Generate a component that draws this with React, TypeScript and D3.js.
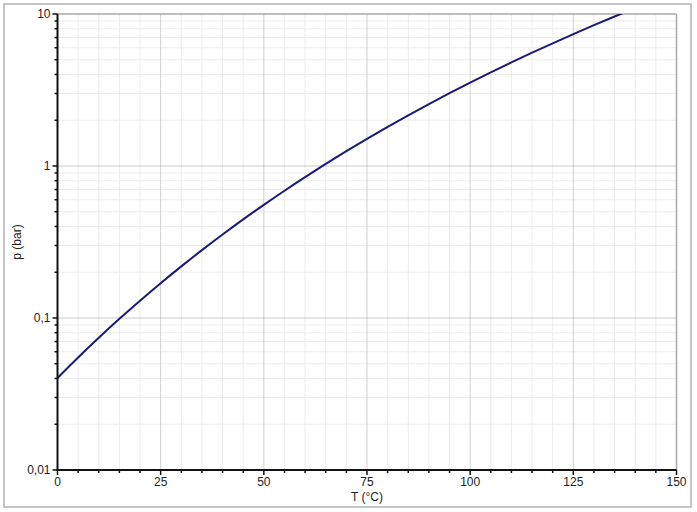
import React from "react";
import * as d3 from "d3";

const temperatures = [0, 5, 10, 15, 20, 25, 30, 35, 40, 45, 50, 55, 60, 65, 70, 75, 80, 85, 90, 95, 100, 105, 110, 115, 120, 125, 130, 135, 140];
const pressures = [0.0403, 0.055, 0.0741, 0.0987, 0.13, 0.1694, 0.2186, 0.2796, 0.3544, 0.4454, 0.5554, 0.6877, 0.845, 1.0315, 1.251, 1.508, 1.807, 2.154, 2.553, 3.011, 3.535, 4.131, 4.804, 5.564, 6.417, 7.371, 8.439, 9.625, 10.94];
const xMajorTicks = [0, 25, 50, 75, 100, 125, 150];
const yMajorTicks = [0.01, 0.1, 1, 10];
const yTickLabels = ["0,01", "0,1", "1", "10"];
const xTitle = "T (°C)";
const yTitle = "p (bar)";

const W = 697, H = 512;
const L = 57.5, R = 676.5, T = 14, B = 470;

export default function App() {
  const x = d3.scaleLinear().domain([0, 150]).range([L, R]);
  const y = d3.scaleLog().domain([0.01, 10]).range([B, T]);
  const xMinor = d3.range(0, 151, 5).filter((v) => v % 25 !== 0);
  const yMinor: number[] = [];
  [0.01, 0.1, 1].forEach((d) => {
    for (let k = 2; k <= 9; k++) yMinor.push(d * k);
  });
  const pts = temperatures.map((t, i) => [t, pressures[i]] as [number, number]);
  const line = d3
    .line<[number, number]>()
    .x((d) => x(d[0]))
    .y((d) => y(d[1]))
    .curve(d3.curveMonotoneX);
  const font = "'Liberation Sans', Arial, sans-serif";
  return (
    <svg width={W} height={H} style={{ position: "absolute", left: 0, top: 0, background: "#fff" }} fontFamily={font}>
      <rect x={4} y={4} width={687} height={503} fill="#fff" stroke="#c4c4c4" strokeWidth={2} />
      <defs>
        <clipPath id="plot">
          <rect x={L} y={T} width={R - L} height={B - T} />
        </clipPath>
      </defs>
      {xMinor.map((v) => (
        <line key={"xm" + v} x1={x(v)} x2={x(v)} y1={T} y2={B} stroke="#ececec" strokeWidth={1} />
      ))}
      {yMinor.map((v) => (
        <line key={"ym" + v} x1={L} x2={R} y1={y(v)} y2={y(v)} stroke="#ececec" strokeWidth={1} />
      ))}
      {xMajorTicks.slice(1, -1).map((v) => (
        <line key={"xg" + v} x1={x(v)} x2={x(v)} y1={T} y2={B} stroke="#cfcfcf" strokeWidth={1} />
      ))}
      {yMajorTicks.slice(1, -1).map((v) => (
        <line key={"yg" + v} x1={L} x2={R} y1={y(v)} y2={y(v)} stroke="#999" strokeWidth={1} strokeDasharray="1,1" />
      ))}
      <line x1={L} x2={R} y1={T} y2={T} stroke="#a8a8a8" strokeWidth={1.5} />
      <line x1={R} x2={R} y1={T} y2={B} stroke="#a8a8a8" strokeWidth={1.5} />
      <path d={line(pts) || ""} fill="none" stroke="#1a1a78" strokeWidth={2} clipPath="url(#plot)" />
      <line x1={L} x2={L} y1={T} y2={B + 1} stroke="#111" strokeWidth={2} />
      <line x1={L - 1} x2={R} y1={B} y2={B} stroke="#111" strokeWidth={2} />
      {xMinor.map((v) => (
        <line key={"xt" + v} x1={x(v)} x2={x(v)} y1={B} y2={B + 3} stroke="#111" strokeWidth={1.5} />
      ))}
      {xMajorTicks.map((v) => (
        <g key={"xM" + v}>
          <line x1={x(v)} x2={x(v)} y1={B} y2={B + 5} stroke="#111" strokeWidth={1.5} />
          <text x={x(v)} y={B + 16} textAnchor="middle" fontSize={12} fill="#222">
            {v}
          </text>
        </g>
      ))}
      {yMinor.map((v) => (
        <line key={"yt" + v} x1={L - 3} x2={L} y1={y(v)} y2={y(v)} stroke="#111" strokeWidth={1.5} />
      ))}
      {yMajorTicks.map((v, i) => (
        <g key={"yM" + v}>
          <line x1={L - 5} x2={L} y1={y(v)} y2={y(v)} stroke="#111" strokeWidth={1.5} />
          <text x={L - 7} y={y(v) + 4} textAnchor="end" fontSize={12} fill="#222">
            {yTickLabels[i]}
          </text>
        </g>
      ))}
      <text x={(L + R) / 2} y={501} textAnchor="middle" fontSize={12} fill="#222">
        {xTitle}
      </text>
      <text transform={`translate(21,${(T + B) / 2}) rotate(-90)`} textAnchor="middle" fontSize={12} fill="#222">
        {yTitle}
      </text>
    </svg>
  );
}
